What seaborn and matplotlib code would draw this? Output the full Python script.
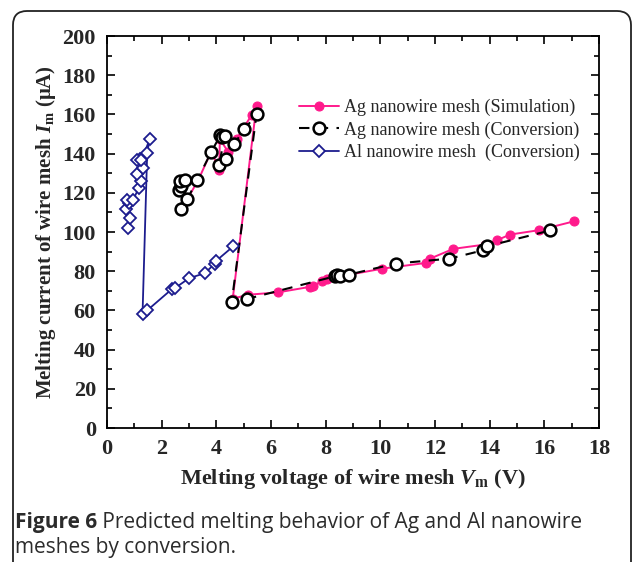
import numpy as np
import pandas as pd
import matplotlib
matplotlib.use("Agg")
import matplotlib.pyplot as plt
from matplotlib.patches import FancyBboxPatch
from matplotlib.ticker import MultipleLocator
from matplotlib.transforms import IdentityTransform
import seaborn as sns

# Ag nanowire mesh (simulation)
ag_sim_v = [2.72, 2.93, 3.34, 3.82, 4.10, 4.13, 4.43, 4.74, 5.29, 5.47,
            4.60, 5.17, 6.26, 7.42, 7.55, 7.85, 8.04, 10.07, 11.66, 11.80,
            12.67, 13.83, 14.26, 14.75, 15.79, 17.10]
ag_sim_i = [111.5, 116.6, 126.5, 141.3, 131.5, 147.3, 141.0, 147.5, 159.6, 164.5,
            66.0, 68.0, 69.2, 72.0, 72.6, 74.8, 76.1, 81.3, 84.2, 86.3,
            91.4, 93.6, 95.8, 98.7, 100.9, 105.5]

# Ag nanowire mesh (conversion)
ag_conv_v = [2.64, 2.72, 2.66, 2.85, 2.69, 2.93, 3.30, 3.82, 4.15, 4.22,
             4.31, 4.10, 4.35, 4.64, 5.02, 5.47,
             4.56, 5.11, 8.34, 8.42, 8.52, 8.86, 10.56, 12.53, 13.77, 13.90, 16.22]
ag_conv_i = [121.5, 123.3, 126.0, 126.5, 111.5, 116.6, 126.5, 141.0, 149.4, 148.5,
             149.0, 134.3, 137.2, 144.7, 152.3, 160.0,
             64.1, 65.8, 77.4, 77.9, 77.4, 78.3, 83.9, 86.4, 90.7, 92.7, 100.8]

# Al nanowire mesh (conversion)
al_conv_v = [0.77, 0.83, 0.71, 0.81, 0.75, 0.95, 1.17, 1.24, 1.08, 1.32,
             1.20, 1.08, 1.26, 1.56, 1.47,
             1.30, 1.47, 2.36, 2.48, 3.00, 3.58, 3.94, 3.97, 4.62]
al_conv_i = [102.2, 107.1, 111.9, 114.8, 116.2, 116.2, 122.7, 125.9, 129.8, 132.4,
             137.5, 136.6, 136.6, 147.2, 140.4,
             58.2, 60.0, 70.7, 71.3, 76.4, 79.0, 83.8, 85.0, 92.7]

sns.set_theme(style="ticks")
plt.rcParams["font.family"] = ["Liberation Serif", "DejaVu Serif"]
plt.rcParams["mathtext.fontset"] = "custom"
plt.rcParams["mathtext.rm"] = "Liberation Serif:bold"
plt.rcParams["mathtext.it"] = "Liberation Serif:italic:bold"

fig = plt.figure(figsize=(6.32, 5.62), dpi=100)
ax = fig.add_axes([107 / 632, 1 - 428 / 562, 492 / 632, 392 / 562])

df_sim = pd.DataFrame({"V": ag_sim_v, "I": ag_sim_i})
df_conv = pd.DataFrame({"V": ag_conv_v, "I": ag_conv_i})
df_al = pd.DataFrame({"V": al_conv_v, "I": al_conv_i})

pink = "#ff1a8c"
navy = "#1c1c8e"

sns.lineplot(data=df_sim, x="V", y="I", sort=False, estimator=None, ax=ax,
             color=pink, lw=1.4, marker="o", markersize=6.5,
             markerfacecolor=pink, markeredgecolor=pink,
             label="Ag nanowire mesh (Simulation)", zorder=3)
sns.lineplot(data=df_conv, x="V", y="I", sort=False, estimator=None, ax=ax,
             color="black", lw=1.5, dashes=(5, 4), marker="o", markersize=8.5,
             markerfacecolor="white", markeredgecolor="black", markeredgewidth=1.8,
             label="Ag nanowire mesh (Conversion)", zorder=4)
sns.lineplot(data=df_al, x="V", y="I", sort=False, estimator=None, ax=ax,
             color=navy, lw=1.3, marker="D", markersize=6,
             markerfacecolor="white", markeredgecolor=navy, markeredgewidth=1.3,
             label="Al nanowire mesh  (Conversion)", zorder=5)

ax.set_xlim(0, 18)
ax.set_ylim(0, 200)
ax.xaxis.set_major_locator(MultipleLocator(2))
ax.xaxis.set_minor_locator(MultipleLocator(1))
ax.yaxis.set_major_locator(MultipleLocator(20))
ax.yaxis.set_minor_locator(MultipleLocator(10))
ax.tick_params(which="both", direction="in", top=True, right=True,
               color="black", width=1.2)
ax.tick_params(which="major", length=6, labelsize=16, pad=8)
ax.tick_params(which="minor", length=3.5)
for lab in ax.get_xticklabels() + ax.get_yticklabels():
    lab.set_fontweight("bold")
for sp in ax.spines.values():
    sp.set_linewidth(1.3)
    sp.set_color("black")

ax.set_xlabel(r"Melting voltage of wire mesh $\mathit{V}_{\mathrm{m}}$ (V)",
              fontsize=16, fontweight="bold", labelpad=6)
ax.set_ylabel(r"Melting current of wire mesh $\mathit{I}_{\mathrm{m}}$ (μA)",
              fontsize=15, fontweight="bold", labelpad=3)

ax.legend(loc="upper left", bbox_to_anchor=(0.39, 0.84), frameon=False,
          fontsize=13, handlelength=2.2, handletextpad=0.3, labelspacing=0.3,
          borderpad=0, borderaxespad=0)

# rounded frame around the figure
frame = FancyBboxPatch((13, -30), 618, 581, boxstyle="round,pad=0,rounding_size=14",
                       transform=IdentityTransform(), fill=False,
                       edgecolor="#222222", lw=1.3)
fig.patches.append(frame)

cap_color = "#2b2b2b"
cap_font = ["Open Sans", "DejaVu Sans"]
t1 = fig.text(15 / 632, 1 - 528 / 562, "Figure 6", fontsize=15, fontweight="bold",
              family=cap_font, color=cap_color, va="baseline")
ax.annotate(" Predicted melting behavior of Ag and Al nanowire", xy=(1, 0),
            xycoords=t1, va="bottom", ha="left", fontsize=15,
            family=cap_font, color=cap_color, annotation_clip=False)
fig.text(15 / 632, 1 - 553 / 562, "meshes by conversion.", fontsize=15,
         family=cap_font, color=cap_color, va="baseline")

plt.savefig("out.png", dpi=100)
